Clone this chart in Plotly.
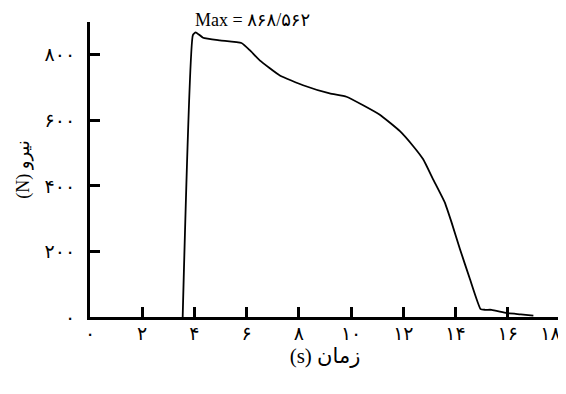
import plotly.graph_objects as go

time_s = [3.55, 3.94, 4.05, 4.33, 4.97, 5.80, 6.12, 6.50, 7.27, 8.16, 9.18, 9.82,
          10.46, 11.10, 11.87, 12.38, 12.76, 13.14, 13.59, 13.85, 14.17, 14.55,
          14.96, 15.13, 15.38, 15.96, 16.50, 16.98]
force_n = [0, 860, 868.562, 852, 844, 836, 814, 783, 737, 707, 682, 672,
           646, 617, 567, 521, 481, 420, 349, 288, 207, 116,
           24, 22, 22, 12, 8, 4]

x_tickvals = [0, 2, 4, 6, 8, 10, 12, 14, 16, 18]
x_ticktext = ["۰", "۲", "۴", "۶", "۸", "۱۰", "۱۲", "۱۴", "۱۶", "۱۸\u00a0\u00a0\u00a0\u00a0"]
y_tickvals = [0, 200, 400, 600, 800]
y_ticktext = ["۰", "۲۰۰", "۴۰۰", "۶۰۰", "۸۰۰"]

max_label = "Max = ۸۶۸/۵۶۲"
x_title = "(s) زمان"
y_title = "(N) نیرو"

FONT = "Liberation Serif, Times New Roman, DejaVu Serif, DejaVu Sans, serif"

fig = go.Figure()
fig.add_trace(go.Scatter(x=time_s, y=force_n, mode="lines",
                         line=dict(color="black", width=1.8, shape="spline", smoothing=0.4),
                         showlegend=False, cliponaxis=False))

peak_i = force_n.index(max(force_n))
fig.add_annotation(x=time_s[peak_i], y=force_n[peak_i], text=max_label,
                   showarrow=False, xanchor="left", yanchor="bottom", xshift=-3, yshift=0,
                   font=dict(family=FONT, size=18, color="black"))

# page has an 8px body margin, so the figure is sized to fit the remaining window
fig.update_layout(
    width=558, height=386,
    margin=dict(l=82, r=6, t=14, b=77),
    plot_bgcolor="white", paper_bgcolor="white",
    font=dict(family=FONT, size=19, color="black"),
)
fig.update_xaxes(range=[0, 18], tickvals=x_tickvals, ticktext=x_ticktext,
                 showgrid=False, zeroline=False, showline=True, linecolor="black", linewidth=3,
                 ticks="inside", ticklen=10, tickwidth=3, tickcolor="black",
                 ticklabelstandoff=-3, ticklabeloverflow="allow", automargin=False,
                 tickfont=dict(size=19),
                 title=dict(text=x_title, standoff=3, font=dict(family=FONT, size=21)))
fig.update_yaxes(range=[0, 900], tickvals=y_tickvals, ticktext=y_ticktext,
                 showgrid=False, zeroline=False, showline=True, linecolor="black", linewidth=3,
                 ticks="inside", ticklen=10, tickwidth=3, tickcolor="black",
                 ticklabelstandoff=8, ticklabeloverflow="allow", automargin=False,
                 tickfont=dict(size=19),
                 title=dict(text=y_title, standoff=11, font=dict(family=FONT, size=18)))

fig.write_html("out.html")
